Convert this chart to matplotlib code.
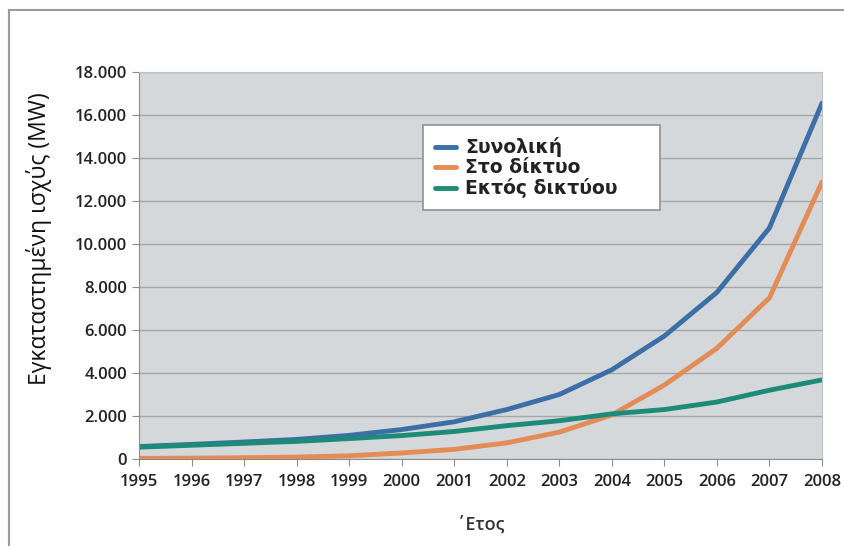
import numpy as np
import matplotlib.pyplot as plt
from matplotlib.patches import Rectangle
from matplotlib.ticker import FuncFormatter

# installed PV capacity (MW)
years = list(range(1995, 2009))
total = [580, 680, 790, 910, 1100, 1370, 1730, 2300, 3000, 4150, 5720, 7750, 10750, 16550]
grid = [30, 40, 60, 90, 150, 280, 450, 750, 1250, 2050, 3440, 5150, 7500, 12880]
offgrid = [550, 640, 730, 820, 950, 1090, 1280, 1550, 1780, 2100, 2300, 2650, 3200, 3680]

labels = ['Συνολική', 'Στο δίκτυο', 'Εκτός δικτύου']
colors = ['#3b6fa6', '#e48c55', '#1e8a78']

plt.rcParams['font.family'] = ['Open Sans', 'DejaVu Sans']

fig = plt.figure(figsize=(8.44, 5.46), dpi=100)
fig.patches.append(Rectangle((9 / 844, -0.05), 1.0, (536 / 546) + 0.05,
                             transform=fig.transFigure, fill=False,
                             edgecolor='#9a9a9a', linewidth=1.5))

ax = fig.add_axes([139 / 844, 1 - 459 / 546, 683 / 844, 387 / 546])
ax.set_facecolor('#d4d8db')

for vals, lab, col in zip([total, grid, offgrid], labels, colors):
    ax.plot(years, vals, color=col, linewidth=3.5, label=lab, solid_capstyle='round')

ax.set_xlim(1995, 2008)
ax.set_ylim(0, 18000)
ax.set_xticks(years)
ax.set_yticks(np.arange(0, 18001, 2000))
ax.yaxis.set_major_formatter(FuncFormatter(lambda v, p: f'{int(v):,}'.replace(',', '.')))
ax.grid(axis='y', color='#a3a5a7', linewidth=1)
ax.set_axisbelow(True)

for s in ['top', 'right']:
    ax.spines[s].set_color('#c0c2c4')
for s in ['left', 'bottom']:
    ax.spines[s].set_color('#8c8c8c')
ax.tick_params(axis='both', colors='#8c8c8c', labelcolor='#222222', length=5, labelsize=12)
ax.tick_params(axis='x', pad=6)
for t in ax.get_xticklabels() + ax.get_yticklabels():
    t.set_fontweight('semibold')
    t.set_fontstretch('condensed')

ax.set_xlabel('΄Ετος', fontsize=13, fontweight='semibold', color='#333333', labelpad=18)
ax.set_ylabel('Εγκαταστημένη ισχύς (MW)', fontsize=16.5, color='#111111')
ax.yaxis.set_label_coords(-0.128, 0.57)

leg = ax.legend(loc='upper left', bbox_to_anchor=(0.416, 0.5, 0.347, 0.363), mode='expand',
                frameon=True, fancybox=False, edgecolor='#909090', facecolor='white',
                framealpha=1, handlelength=1.1, handletextpad=0.5, borderpad=0.65,
                labelspacing=0.05, borderaxespad=0,
                prop={'family': 'DejaVu Sans', 'size': 13.5, 'weight': 'bold'})
leg.get_frame().set_linewidth(1.2)
for t in leg.get_texts():
    t.set_color('#222222')

fig.savefig('out.png', dpi=100)
